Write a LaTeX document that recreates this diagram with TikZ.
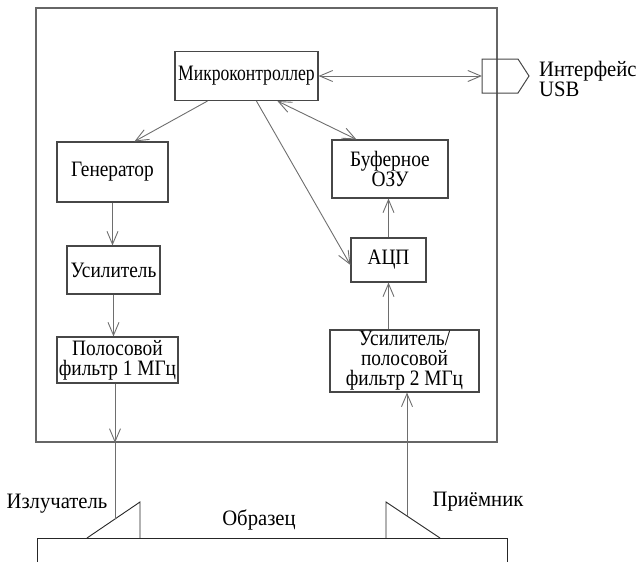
\documentclass[tikz,border=0pt]{standalone}
\usepackage{fontspec}
\setmainfont{Liberation Serif}[FakeStretch=0.88]
\newfontfamily\narrowfont{Liberation Serif}[FakeStretch=0.8]
\newfontfamily\labelfont{Liberation Serif}[FakeStretch=0.94]
\usepackage{tikz}
\usetikzlibrary{arrows.meta}
\definecolor{boxgray}{HTML}{474747}
\definecolor{wiregray}{HTML}{6E6E6E}
\definecolor{framegray}{HTML}{666666}
\newcommand\blocktext{\fontsize{22}{20}\selectfont}
\tikzset{
  block/.style={draw=boxgray, line width=1.1pt, align=center, inner sep=0pt},
  frame/.style={draw=framegray, line width=1.6pt, inner sep=0pt},
  caption/.style={font=\blocktext\labelfont, inner sep=1pt},
  bus/.style={-{Straight Barb[length=13pt,width=11pt]}, draw=wiregray, line width=0.9pt},
  dbus/.style={{Straight Barb[length=13pt,width=11pt]}-{Straight Barb[length=13pt,width=11pt]}, draw=wiregray, line width=0.9pt},
  wire/.style={draw=wiregray, line width=0.9pt},
  probe/.style={draw=black!85, line width=0.9pt, line join=miter}
}

\begin{document}
\begin{tikzpicture}[x=1pt, y=-1pt, font=\blocktext]
  \useasboundingbox (0,0) rectangle (638,562);
  \node[frame, minimum width=461pt, minimum height=434pt] (unit) at (266.5,225) {};

  \node[block, font=\blocktext\narrowfont, minimum width=143pt, minimum height=49pt] (mcu) at (246.5,76) {Микроконтроллер};
  \node[block, minimum width=111pt, minimum height=60pt] (gen) at (112.5,172) {Генератор};
  \node[block, minimum width=93pt, minimum height=48pt] (amp) at (113.5,270) {Усилитель};
  \node[block, minimum width=121pt, minimum height=46pt] (bpf1) at (117.5,360) {Полосовой\\фильтр 1 МГц};
  \node[block, minimum width=116pt, minimum height=58pt] (buf) at (390,169) {Буферное\\ОЗУ};
  \node[block, minimum width=75pt, minimum height=44pt] (adc) at (388.5,260) {АЦП};
  \node[block, minimum width=149pt, minimum height=62pt] (amp2) at (404.5,361) {Усилитель/\\полосовой\\фильтр 2 МГц};

  % USB port
  \coordinate (usb) at (482,76);
  \draw[boxgray, line width=1pt] (482,59) -- (518,59) -- (529,76) -- (518,93) -- (482,93) -- cycle;
  \node[caption, anchor=west, align=left, inner sep=0pt] (usblabel) at (539,79) {Интерфейс\\USB};

  % sample with transducers
  \coordinate (txhit) at (115,519);
  \coordinate (rxhit) at (407,516);
  \draw[probe] (37,575) -- (37,538) -- (507,538) -- (507,575);
  \draw[probe] (87,538) -- (140,502) -- (140,538);
  \draw[probe] (386,538) -- (386,502) -- (440,538);
  \node[caption] (txlabel) at (57,504) {Излучатель};
  \node[caption] (samplelabel) at (259,520) {Образец};
  \node[caption] (rxlabel) at (478,502) {Приёмник};

  \draw[dbus] (mcu.east) -- (usb);
  \draw[bus] ([xshift=33pt]mcu.south west) -- ([xshift=78pt]gen.north west);
  \draw[bus] ([xshift=82pt]mcu.south west) -- ([yshift=-5pt]adc.west);
  \draw[dbus] ([xshift=103pt]mcu.south west) -- ([xshift=25pt]buf.north west);
  \draw[bus] (gen.south) -- (gen.south |- amp.north);
  \draw[bus] (amp.south) -- (amp.south |- bpf1.north);
  \draw[bus] (bpf1.south -| txhit) -- (txhit |- unit.south);
  \draw[wire] (txhit |- unit.south) -- (txhit);
  \draw[bus] (adc.north) -- (adc.north |- buf.south);
  \draw[bus] (adc.south |- amp2.north) -- (adc.south);
  \draw[bus] (rxhit) -- (rxhit |- amp2.south);
\end{tikzpicture}
\end{document}
